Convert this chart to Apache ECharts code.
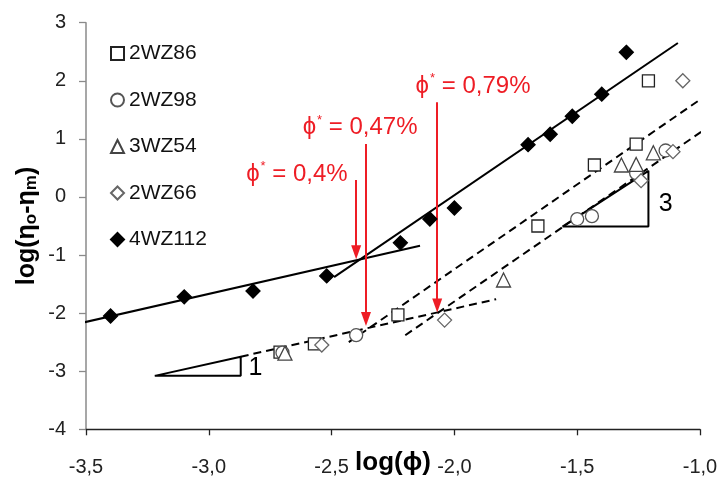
<!DOCTYPE html>
<html><head><meta charset="utf-8">
<script src="https://cdn.jsdelivr.net/npm/echarts@6/dist/echarts.min.js"></script>
<style>html,body{margin:0;padding:0;background:#fff}#c{width:721px;height:484px}</style>
</head><body><div id="c"></div>
<script>
// ---- data ----
const legendNames = ['2WZ86','2WZ98','3WZ54','2WZ66','4WZ112'];
const s2WZ86 = [[-2.71,-2.67],[-2.57,-2.53],[-2.23,-2.03],[-1.66,-0.50],[-1.43,0.55],[-1.26,0.91],[-1.21,2.00]];
const s2WZ98 = [[-2.70,-2.68],[-2.40,-2.38],[-1.50,-0.38],[-1.44,-0.33],[-1.26,0.41],[-1.14,0.80]];
const s3WZ54 = [[-2.69,-2.69],[-1.80,-1.43],[-1.32,0.55],[-1.26,0.56],[-1.19,0.76]];
const s2WZ66 = [[-2.54,-2.55],[-2.04,-2.12],[-1.24,0.28],[-1.11,0.78],[-1.07,2.00]];
const s4WZ112 = [[-3.40,-2.05],[-3.10,-1.72],[-2.82,-1.62],[-2.52,-1.36],[-2.22,-0.79],[-2.10,-0.38],[-2.00,-0.19],[-1.70,0.90],[-1.61,1.08],[-1.52,1.39],[-1.40,1.77],[-1.30,2.49]];

const fitSolidLow  = [[-3.52,-2.17],[-2.14,-0.84]];
const fitSolidHigh = [[-2.49,-1.38],[-1.09,2.65]];
const fitDashLow   = [[-2.87,-2.75],[-1.83,-1.76]];
const fitDashUpper = [[-2.43,-2.50],[-0.93,1.88]];
const fitDashLower = [[-2.20,-2.38],[-0.93,1.31]];
const slopeTri1 = [[-3.22,-3.08],[-2.87,-3.08],[-2.87,-2.75],[-3.22,-3.08]];
const slopeTri3 = [[-1.56,-0.51],[-1.21,-0.51],[-1.21,0.45],[-1.56,-0.51]];

const arrowX    = [-2.40, -2.36, -2.07];
const arrowTop  = [0.29, 0.91, 1.63];
const arrowTip  = [-0.95, -2.10, -1.87];
const phiLabels = ['0,4%', '0,47%', '0,79%'];
const phiLabelPos = [[-2.85,0.39],[-2.62,1.19],[-2.16,1.91]];
const slopeLabels = ['1','3'];
const slopeLabelPos = [[-2.84,-2.95],[-1.17,-0.13]];

const xTickValues = [-3.5,-3.0,-2.5,-2.0,-1.5,-1.0];
const xTickLabels = ['-3,5','-3,0','-2,5','-2,0','-1,5','-1,0'];
const yTickValues = [-4,-3,-2,-1,0,1,2,3];
const yTickLabels = ['-4','-3','-2','-1','0','1','2','3'];

// ---- chart ----
const FONT = '"Liberation Sans", Arial, sans-serif';
const RED = '#EE1D25';
const chart = echarts.init(document.getElementById('c'), null, {renderer:'canvas'});

function marker(name, data, symbol, size, fill, border) {
  return {name, type:'scatter', data, symbol, symbolSize:size, z:5,
    itemStyle:{color:fill, borderColor:border, borderWidth:1.3, opacity:1}};
}
function fitLine(data, dashed) {
  return {type:'line', data, symbol:'none', clip:false, silent:true, z:3,
    lineStyle:{color:'#000', width:2, type: dashed ? [8,5] : 'solid'}};
}

const option = {
  animation:false,
  backgroundColor:'#fff',
  grid:{left:86, right:21, top:22.7, bottom:54.7, containLabel:false, outerBoundsMode:'none'},
  xAxis:{type:'value', min:-3.5, max:-1.0, interval:0.5,
    axisLine:{onZero:false, lineStyle:{color:'#222', width:1.3}},
    axisTick:{inside:false, length:6, lineStyle:{color:'#222', width:1.3}},
    splitLine:{show:false},
    axisLabel:{margin:28, color:'#222', fontSize:20, fontFamily:FONT,
      formatter:v => { const i = xTickValues.findIndex(t => Math.abs(t-v)<1e-6); return i>=0 ? xTickLabels[i] : ''; }},
    name:'log(ϕ)', nameLocation:'middle', nameGap:21, nameMoveOverlap:false,
    nameTextStyle:{fontSize:26, fontWeight:'bold', color:'#000', fontFamily:FONT, verticalAlign:'top'}
  },
  yAxis:{type:'value', min:-4, max:3, interval:1,
    axisLine:{show:true, onZero:false, lineStyle:{color:'#8a8a8a', width:1.5}},
    axisTick:{show:true, inside:false, length:7, lineStyle:{color:'#8a8a8a', width:1.3}},
    splitLine:{show:false},
    axisLabel:{margin:20, color:'#222', fontSize:20, fontFamily:FONT,
      formatter:v => { const i = yTickValues.findIndex(t => Math.abs(t-v)<1e-6); return i>=0 ? yTickLabels[i] : ''; }}
  },
  legend:{orient:'vertical', left:110, top:43, padding:0, itemGap:25.5, itemWidth:13, itemHeight:13,
    data:legendNames, textStyle:{fontSize:21, color:'#111', fontFamily:FONT}, selectedMode:false},
  graphic:[{type:'text', x:27, y:226, rotation:Math.PI/2,
    style:{text:'log(η{s|o}-η{s|m})', fontSize:25, fontWeight:'bold', fontFamily:FONT, fill:'#000',
      align:'center', verticalAlign:'middle',
      rich:{s:{fontSize:17, fontWeight:'bold', fontFamily:FONT, fill:'#000', verticalAlign:'bottom', padding:[9,0,0,0]}}}}],
  series:[
    fitLine(fitSolidLow,false), fitLine(fitSolidHigh,false),
    fitLine(fitDashLow,true), fitLine(fitDashUpper,true), fitLine(fitDashLower,true),
    fitLine(slopeTri1,false), fitLine(slopeTri3,false),
    marker('2WZ86', s2WZ86, 'rect', 12, '#fff', '#222'),
    marker('2WZ98', s2WZ98, 'circle', 13, '#fff', '#555'),
    marker('3WZ54', s3WZ54, 'triangle', 14, '#fff', '#444'),
    marker('2WZ66', s2WZ66, 'diamond', 14, '#fff', '#666'),
    marker('4WZ112', s4WZ112, 'diamond', 14, '#000', '#000'),
    {type:'line', data:[], silent:true,
      markLine:{silent:true, symbol:['none','triangle'], symbolSize:[10,14], animation:false,
        lineStyle:{color:RED, width:2, type:'solid', opacity:1}, label:{show:false},
        data: arrowX.map((x,i) => [{coord:[x,arrowTop[i]]},{coord:[x,arrowTip[i]]}])}},
    {type:'scatter', silent:true, symbolSize:1, itemStyle:{color:'rgba(0,0,0,0)', opacity:1}, z:6,
      data: phiLabels.map((t,i) => ({value:phiLabelPos[i], name:t})),
      label:{show:true, position:'right', distance:0,
        formatter: p => '{p|ϕ}{sup|*}{t| = ' + p.name + '}',
        rich:{p:{fontSize:24, color:RED, fontFamily:FONT, lineHeight:28},
              sup:{fontSize:13, color:RED, fontFamily:FONT, verticalAlign:'top', lineHeight:28, padding:[0,0,0,1]},
              t:{fontSize:24, color:RED, fontFamily:FONT, lineHeight:28}}}},
    {type:'scatter', silent:true, symbolSize:1, itemStyle:{color:'rgba(0,0,0,0)', opacity:1}, z:6,
      data: slopeLabels.map((t,i) => ({value:slopeLabelPos[i], name:t})),
      label:{show:true, position:'right', distance:0, formatter: p => p.name,
        fontSize:25, color:'#000', fontFamily:FONT}}
  ]
};
chart.setOption(option);
</script></body></html>
